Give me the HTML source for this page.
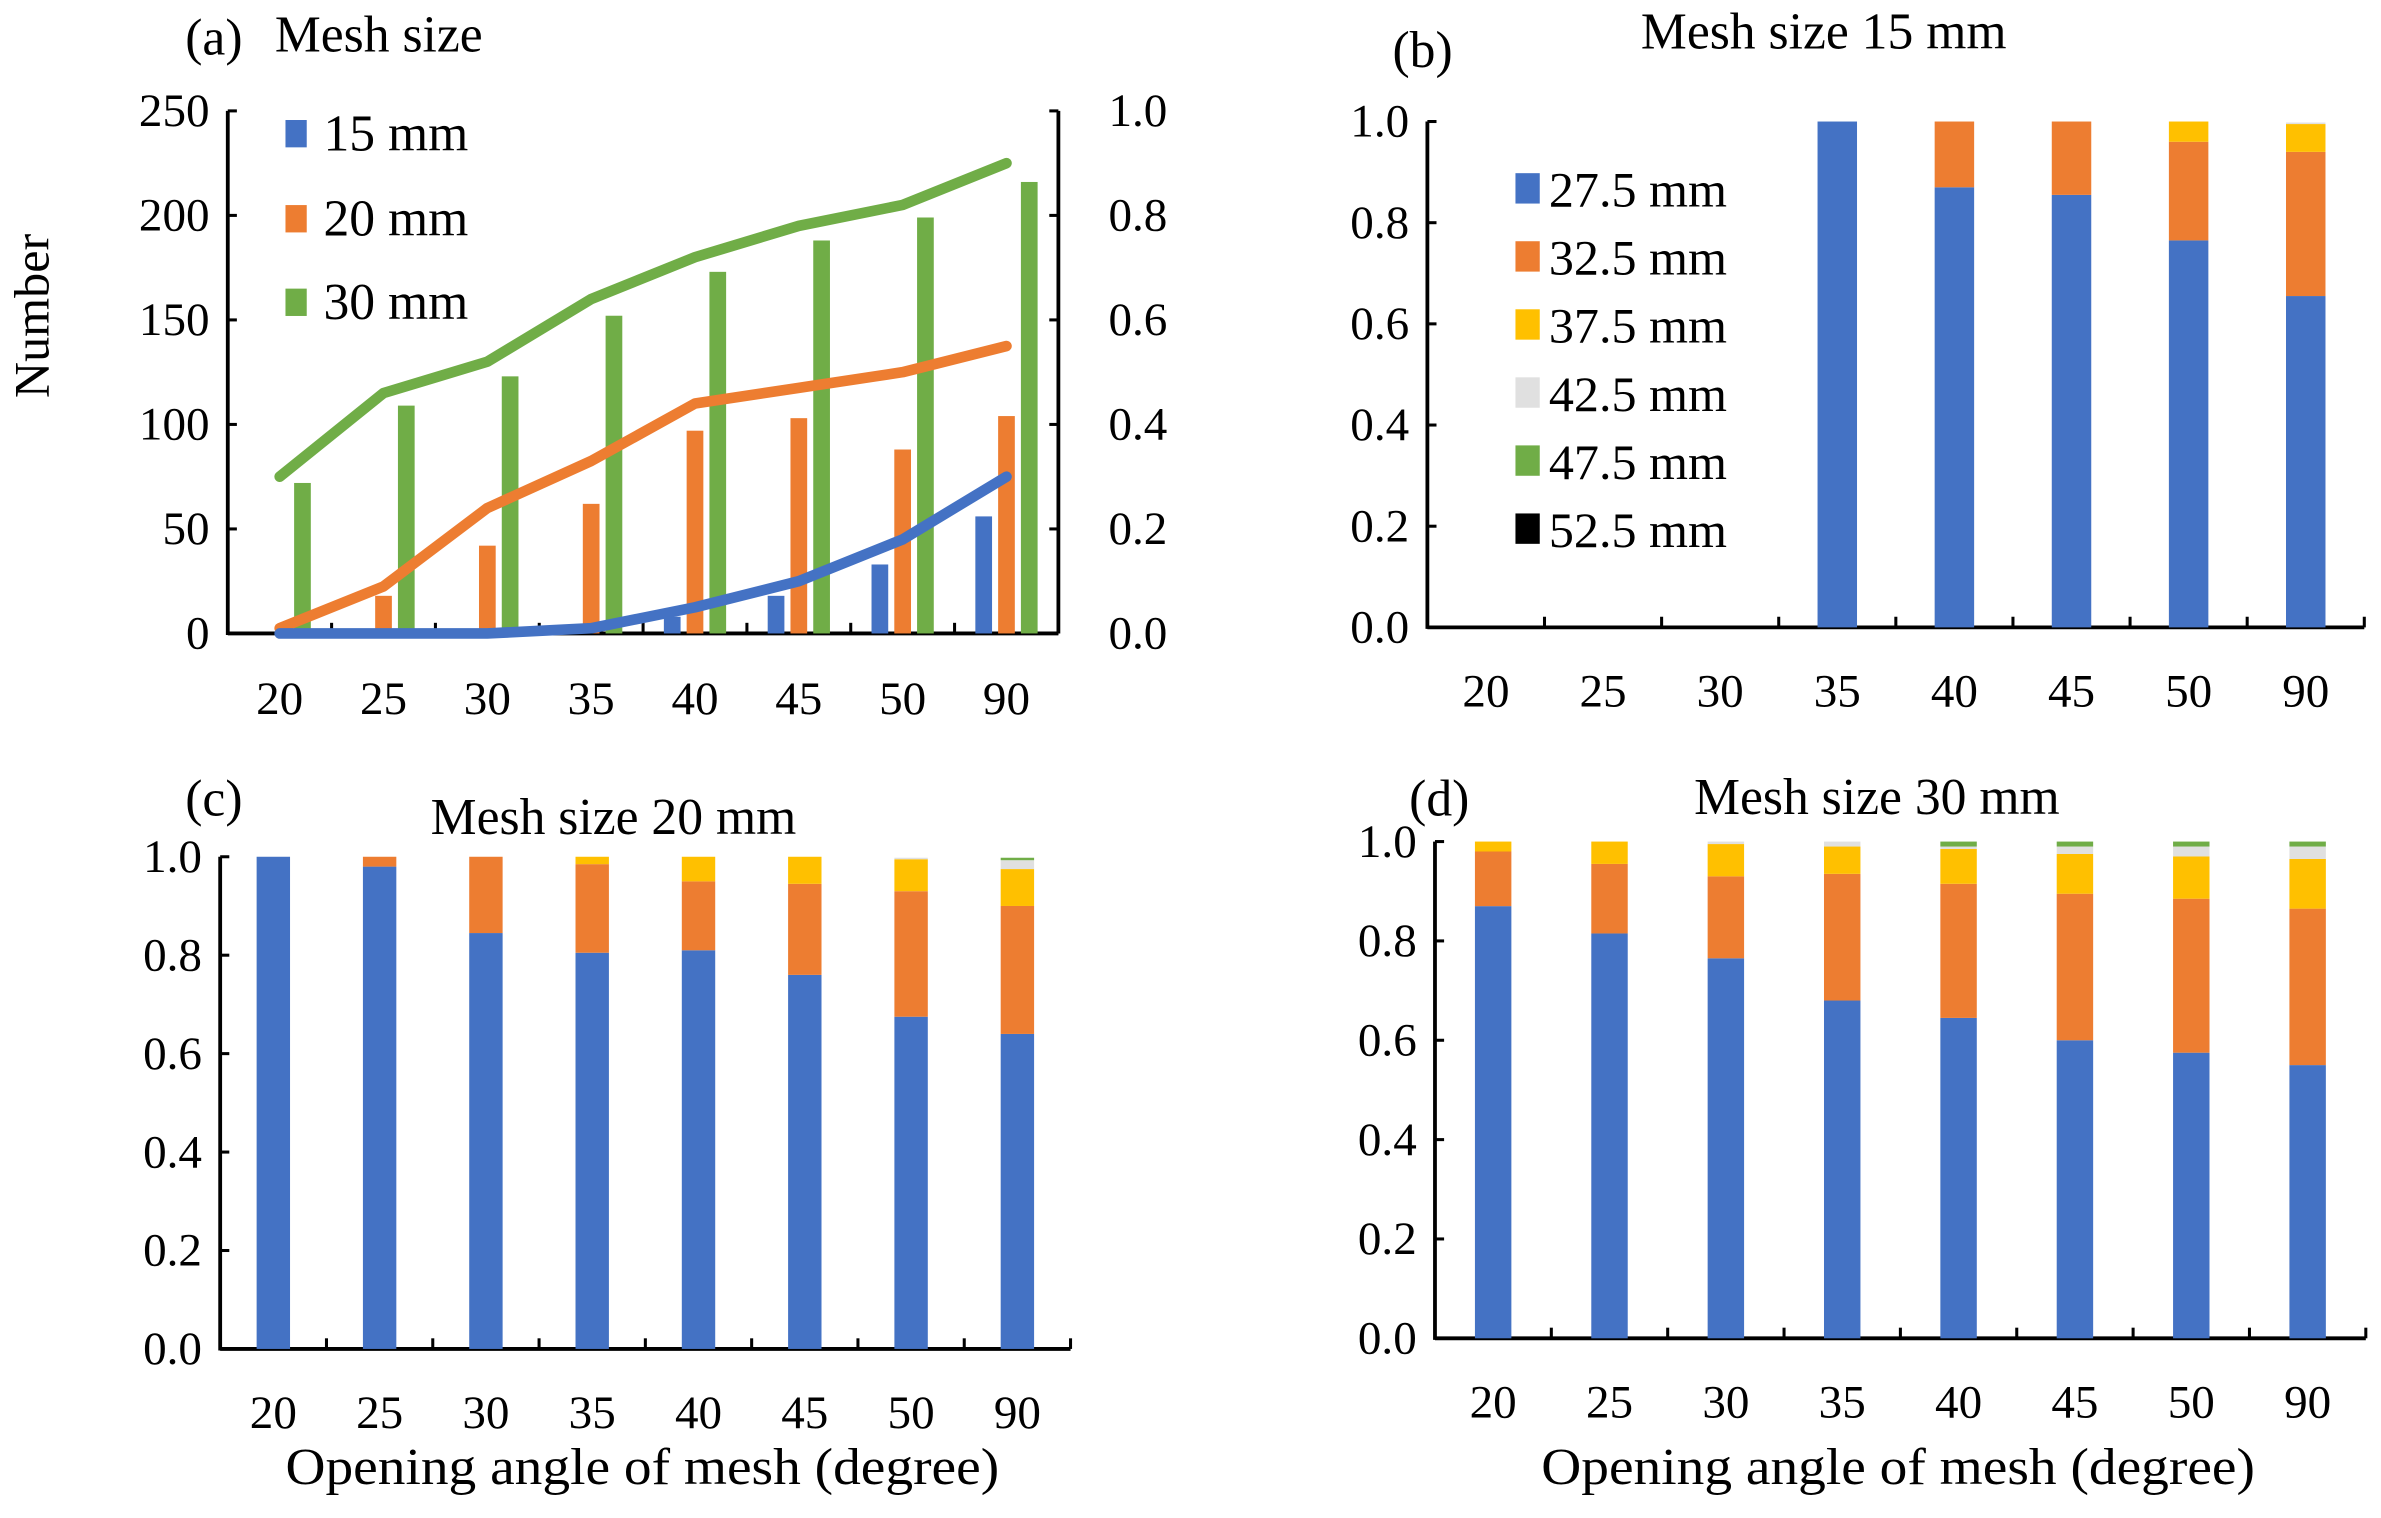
<!DOCTYPE html>
<html><head><meta charset="utf-8"><style>
html,body{margin:0;padding:0;background:#fff;}
svg, svg text{font-family:"Liberation Serif","Times New Roman",Times,"DejaVu Serif",serif;}
</style></head><body>
<svg id="fig" width="2381" height="1513" viewBox="0 0 1568 996" preserveAspectRatio="none" xmlns="http://www.w3.org/2000/svg"></svg>
<script>
// ---- shared data ----
const categories = ["20","25","30","35","40","45","50","90"];
const colors = ["#4472C4","#ED7D31","#FFC000","#E0E0E0","#70AD47","#000000"];
const sizeLabels = ["27.5 mm","32.5 mm","37.5 mm","42.5 mm","47.5 mm","52.5 mm"];
// panel (a)
const barsA15 = [0,0,0,0,8,18,33,56];
const barsA20 = [0,18,42,62,97,103,88,104];
const barsA30 = [72,109,123,152,173,188,199,216];
const lineA15 = [0,0,0,0.01,0.05,0.10,0.18,0.30];
const lineA20 = [0.01,0.09,0.24,0.33,0.44,0.47,0.50,0.55];
const lineA30 = [0.30,0.46,0.52,0.64,0.72,0.78,0.82,0.90];
const leftTicksA = ["0","50","100","150","200","250"];
const rightTicks = ["0.0","0.2","0.4","0.6","0.8","1.0"];
// stacked proportions [27.5,32.5,37.5,42.5,47.5,52.5]
const stackB = [[0,0,0,0,0,0],[0,0,0,0,0,0],[0,0,0,0,0,0],[1,0,0,0,0,0],[0.87,0.13,0,0,0,0],[0.855,0.145,0,0,0,0],[0.765,0.195,0.04,0,0,0],[0.655,0.285,0.055,0.003,0,0]];
const stackC = [[1,0,0,0,0,0],[0.98,0.02,0,0,0,0],[0.845,0.155,0,0,0,0],[0.805,0.18,0.015,0,0,0],[0.81,0.14,0.05,0,0,0],[0.76,0.185,0.055,0,0,0],[0.675,0.255,0.065,0.003,0,0],[0.64,0.26,0.075,0.018,0.005,0]];
const stackD = [[0.87,0.11,0.02,0,0,0],[0.815,0.14,0.045,0,0,0],[0.765,0.165,0.065,0.005,0,0],[0.68,0.255,0.055,0.01,0,0],[0.645,0.27,0.07,0.005,0.01,0],[0.60,0.295,0.08,0.015,0.01,0],[0.575,0.31,0.085,0.02,0.01,0],[0.55,0.315,0.10,0.025,0.01,0]];

const NS="http://www.w3.org/2000/svg";
const svg=document.getElementById('fig');
const FF='"Liberation Serif", "Times New Roman", Times, "DejaVu Serif", serif';
function mk(tag,attrs,parent,text){const e=document.createElementNS(NS,tag);for(const k in attrs)e.setAttribute(k,attrs[k]);if(text!==undefined){e.textContent=text;e.setAttribute('font-family',FF);}(parent||svg).appendChild(e);return e;}

function axes(g,L,R,T,B,ticks,opts){
  const n=categories.length,cw=(R-L)/n;
  const xs=i=>L+cw*(i+0.5);
  const ys=v=>B-(B-T)*v;
  let ax=mk('line',{x1:L,y1:T,x2:L,y2:B+1,stroke:'#000','stroke-width':2.5},g);
  
  
  let bx=mk('line',{x1:L,y1:B,x2:R,y2:B,stroke:'#000','stroke-width':2.5},g);
  
  
  ticks.forEach((t,i)=>{const y=ys(i/(ticks.length-1));
    mk('line',{x1:L,y1:y,x2:L+6,y2:y,stroke:'#000','stroke-width':2},g);
    let tx=mk('text',{x:L-12,y:y+10,'text-anchor':'end','font-size':31},g,t);
    
    });
  for(let i=1;i<=n;i++){const x=L+cw*i;mk('line',{x1:x,y1:B,x2:x,y2:B-7,stroke:'#000','stroke-width':2},g);}
  categories.forEach((c,i)=>{let tx=mk('text',{x:xs(i),y:B+opts.lab,'text-anchor':'middle','font-size':31},g,c);
    
    });
  return {xs,ys,cw};
}

function stacked(name,data,L,R,T,B,bw,lab){
  const g=mk('g',{});
  
  
  const a=axes(g,L,R,T,B,rightTicks,{lab});
  data.forEach((row,i)=>{let acc=0;row.forEach((v,k)=>{if(v<=0)return;
    const y0=a.ys(acc),y1=a.ys(acc+v);acc+=v;
    let r=mk('rect',{x:a.xs(i)-bw/2,y:y1,width:bw,height:y0-y1,fill:colors[k]},g);
    
    });});
  return g;
}

// ---- panel (a) ----
(function(){
  const L=150,R=697,T=73,B=417;
  const g=mk('g',{});
  
  
  const a=axes(g,L,R,T,B,leftTicksA,{lab:53});
  mk('line',{x1:R,y1:T,x2:R,y2:B,stroke:'#000','stroke-width':2.5},g);
  rightTicks.forEach((t,i)=>{const y=a.ys(i/5);mk('line',{x1:R-6,y1:y,x2:R,y2:y,stroke:'#000','stroke-width':2},g);
    let tx=mk('text',{x:R+33,y:y+10,'font-size':31},g,t);
    
    });
  const yl=v=>B-(B-T)*v/250;
  [[barsA15,-15,colors[0]],[barsA20,0,colors[1]],[barsA30,15,colors[4]]].forEach(([arr,off,c])=>{
    arr.forEach((v,i)=>{if(v<=0)return;let r=mk('rect',{x:a.xs(i)+off-5.5,y:yl(v),width:11,height:B-yl(v),fill:c},g);
      
      });});
  [[lineA30,colors[4]],[lineA20,colors[1]],[lineA15,colors[0]]].forEach(([arr,c])=>{
    let p=mk('polyline',{points:arr.map((v,i)=>a.xs(i)+','+a.ys(v)).join(' '),fill:'none',stroke:c,'stroke-width':7,'stroke-linejoin':'round','stroke-linecap':'round'},g);
    
    });
  [["15 mm",colors[0],88],["20 mm",colors[1],144],["30 mm",colors[4],199]].forEach(([t,c,y])=>{
    let r=mk('rect',{x:188,y:y-9,width:14,height:18,fill:c},g);
    
    
    let tx=mk('text',{x:213,y:y+11,'font-size':34},g,t);
    
    });
  let t1=mk('text',{x:122,y:36,'font-size':34},g,"(a)");
  
  
  let t2=mk('text',{x:181,y:34,'font-size':34},g,"Mesh size");
  
  
  let yt=mk('text',{x:0,y:0,'font-size':33,'text-anchor':'middle',transform:'translate(32,208) rotate(-90)'},g,"Number");
  
  
})();

// ---- panel (b) ----
(function(){
  const g=stacked('panel-b',stackB,940,1557,80,413,26,52);
  sizeLabels.forEach((t,k)=>{const y=125+k*44.8;
    let r=mk('rect',{x:998,y:y-11,width:16,height:20,fill:colors[k]},g);
    
    
    let tx=mk('text',{x:1020,y:y+11,'font-size':33},g,t);
    
    });
  let t1=mk('text',{x:917,y:44,'font-size':34},g,"(b)");
  
  
  let t2=mk('text',{x:1201,y:32,'font-size':34,'text-anchor':'middle'},g,"Mesh size 15 mm");
  
  
})();

// ---- panel (c) ----
(function(){
  const g=stacked('panel-c',stackC,145,705,564,888,22,52);
  let t1=mk('text',{x:122,y:537,'font-size':34},g,"(c)");
  
  
  let t2=mk('text',{x:404,y:549,'font-size':34,'text-anchor':'middle'},g,"Mesh size 20 mm");
  
  
  let xt=mk('text',{x:423,y:977,'font-size':34,'text-anchor':'middle',textLength:470,lengthAdjust:'spacingAndGlyphs'},g,"Opening angle of mesh (degree)");
  
  
})();

// ---- panel (d) ----
(function(){
  const g=stacked('panel-d',stackD,945,1558,554,881,24,52);
  let t1=mk('text',{x:928,y:537,'font-size':34},g,"(d)");
  
  
  let t2=mk('text',{x:1236,y:536,'font-size':34,'text-anchor':'middle'},g,"Mesh size 30 mm");
  
  
  let xt=mk('text',{x:1250,y:977,'font-size':34,'text-anchor':'middle',textLength:470,lengthAdjust:'spacingAndGlyphs'},g,"Opening angle of mesh (degree)");
  
  
})();
</script>
</body></html>
